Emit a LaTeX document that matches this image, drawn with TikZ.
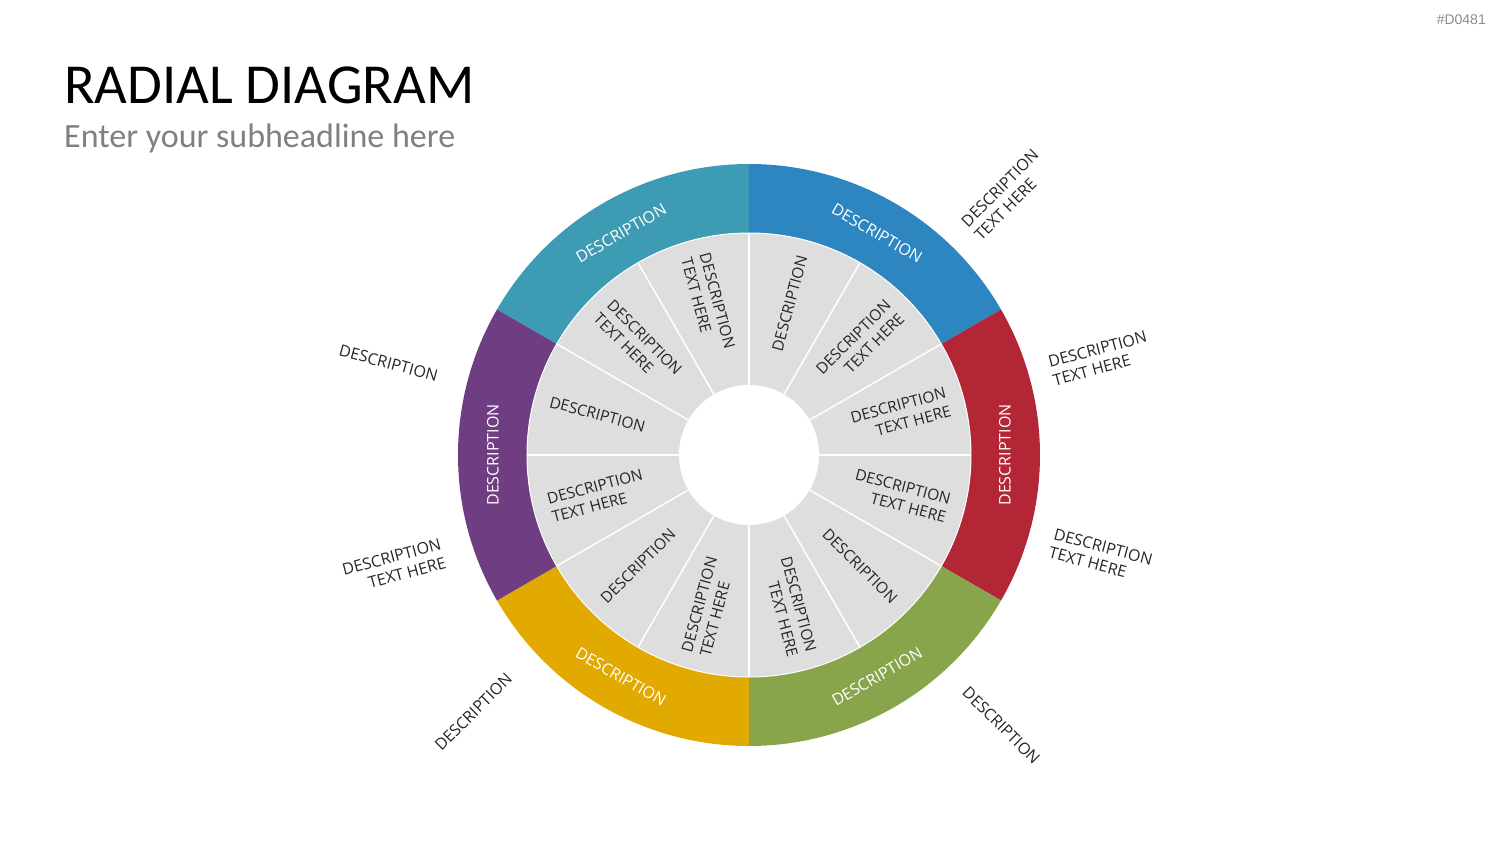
\documentclass[tikz,border=0pt]{standalone}
\usepackage{fontspec}
\setmainfont{Open Sans}
\newfontfamily\headfont{Carlito}
\newfontfamily\tagfont{Liberation Sans}
\usepackage{tikz}
\usetikzlibrary{positioning}

\definecolor{ringteal}{RGB}{62,155,180}
\definecolor{ringblue}{RGB}{46,134,193}
\definecolor{ringred}{RGB}{178,38,54}
\definecolor{ringgreen}{RGB}{136,165,76}
\definecolor{ringyellow}{RGB}{226,170,0}
\definecolor{ringpurple}{RGB}{111,61,130}
\definecolor{sectorgray}{RGB}{222,222,222}

\begin{document}
\begin{tikzpicture}[
  ring label/.style={text=white,font=\fontsize{16}{19}\selectfont,inner sep=0pt},
  sector label/.style={text=black!85,font=\fontsize{15.5}{19}\selectfont,inner sep=0pt},
  outer label/.style={text=black!85,font=\fontsize{16}{19}\selectfont,inner sep=0pt}]
\useasboundingbox (-749pt,-389pt) rectangle (751pt,455pt);

\node[anchor=base west,inner sep=0pt,font=\headfont\fontsize{56.5}{62}\selectfont] (title) at (-685pt,351pt) {RADIAL DIAGRAM};
\node[anchor=base west,inner sep=0pt,text=black!50,font=\headfont\fontsize{34}{40}\selectfont] (subtitle) at (-685pt,307pt) {Enter your subheadline here};
\node[anchor=base east,inner sep=0pt,text=black!45,font=\tagfont\fontsize{14}{16}\selectfont] (tag) at (737pt,430pt) {\#D0481};

\foreach \a/\c in {90/ringteal,30/ringblue,-30/ringred,-90/ringgreen,-150/ringyellow,150/ringpurple}
  \fill[\c] (\a:291pt) arc[start angle=\a,end angle=\a+60,radius=291pt] -- ({\a+60}:222pt) arc[start angle=\a+60,end angle=\a,radius=222pt] -- cycle;
\fill[sectorgray,draw=white,line width=1pt] (0,0) circle[radius=222pt];
\foreach \a in {0,30,...,330}
  \draw[white,line width=1.5pt] (\a:70pt) -- (\a:222pt);
\fill[white] (0,0) circle[radius=70pt];

\node[ring label,rotate=30] (Rteal) at (120:256pt) {DESCRIPTION};
\node[ring label,rotate=-30] (Rblue) at (60:256pt) {DESCRIPTION};
\node[ring label,rotate=90] (Rred) at (0:256pt) {DESCRIPTION};
\node[ring label,rotate=30] (Rgreen) at (-60:256pt) {DESCRIPTION};
\node[ring label,rotate=-30] (Ryellow) at (-120:256pt) {DESCRIPTION};
\node[ring label,rotate=90] (Rpurple) at (180:256pt) {DESCRIPTION};

\node[sector label,align=right,rotate=15] (Sone) at (15:157pt) {DESCRIPTION\\TEXT HERE};
\node[sector label,align=right,rotate=45] (Stwo) at (45:157pt) {DESCRIPTION\\TEXT HERE};
\node[sector label,rotate=75] (Sthree) at (75:157pt) {DESCRIPTION};
\node[sector label,align=left,rotate=-75] (Sfour) at (105:157pt) {DESCRIPTION\\TEXT HERE};
\node[sector label,align=left,rotate=-45] (Sfive) at (135:157pt) {DESCRIPTION\\TEXT HERE};
\node[sector label,rotate=-15] (Ssix) at (165:157pt) {DESCRIPTION};
\node[sector label,align=left,rotate=15] (Sseven) at (195:157pt) {DESCRIPTION\\TEXT HERE};
\node[sector label,rotate=45] (Seight) at (225:157pt) {DESCRIPTION};
\node[sector label,align=left,rotate=75] (Snine) at (255:157pt) {DESCRIPTION\\TEXT HERE};
\node[sector label,align=right,rotate=-75] (Sten) at (285:157pt) {DESCRIPTION\\TEXT HERE};
\node[sector label,rotate=-45] (Seleven) at (315:157pt) {DESCRIPTION};
\node[sector label,align=right,rotate=-15] (Stwelve) at (345:157pt) {DESCRIPTION\\TEXT HERE};

\node[outer label,align=left,rotate=45] (Oone) at (45.3:366pt) {DESCRIPTION\\TEXT HERE};
\node[outer label,align=left,rotate=15] (Otwo) at (15.4:364pt) {DESCRIPTION\\TEXT HERE};
\node[outer label,align=left,rotate=-15] (Othree) at (-16:366pt) {DESCRIPTION\\TEXT HERE};
\node[outer label,rotate=-45] (Ofour) at (-47:370pt) {DESCRIPTION};
\node[outer label,rotate=45] (Ofive) at (-137:377pt) {DESCRIPTION};
\node[outer label,align=right,rotate=15] (Osix) at (-162.6:372pt) {DESCRIPTION\\TEXT HERE};
\node[outer label,rotate=-15] (Oseven) at (165.7:372pt) {DESCRIPTION};
\end{tikzpicture}
\end{document}
